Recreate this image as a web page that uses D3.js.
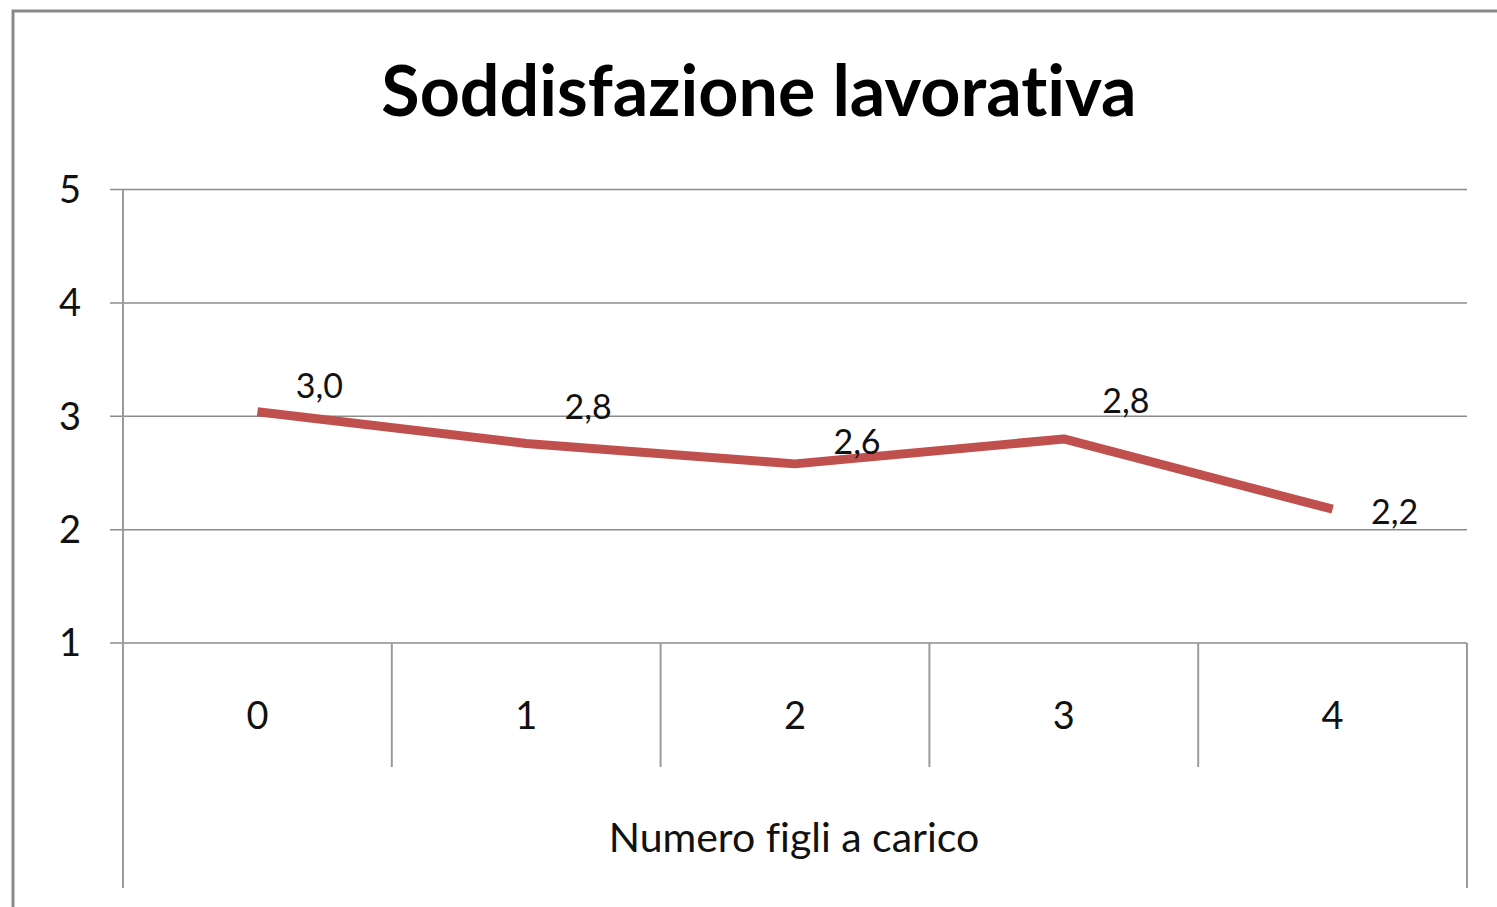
<!DOCTYPE html>
<html>
<head>
<meta charset="utf-8">
<script src="https://cdn.jsdelivr.net/npm/d3@7"></script>
<style>
  body { margin: 0; background: #fff; }
  svg { display: block; font-family: Lato, "Open Sans", sans-serif; font-variant-ligatures: none; }
</style>
</head>
<body>
<div id="container"></div>
<script>
// chart data
let categories = ["0", "1", "2", "3", "4"];
let values = [3.04, 2.76, 2.58, 2.80, 2.18];
let yTicks = [1, 2, 3, 4, 5];
let chartTitle = "Soddisfazione lavorativa";
let xTitle = "Numero figli a carico";

// label nudges (Excel placed the data labels a bit differently per point)
let labelDy = [-26, -36, -22, -38, 3];

//Width and height
let w = 1497;
let h = 907;

let plotLeft = 123, plotRight = 1467, plotTop = 189.5, plotBottom = 643;

let x = d3.scaleBand()
  .domain(categories)
  .range([plotLeft, plotRight]);

let y = d3.scaleLinear()
  .domain([1, 5])
  .range([plotBottom, plotTop]);

let svg = d3.select("#container")
  .append("svg")
  .attr("width", w)
  .attr("height", h);

// outer chart border (runs off the right/bottom of the picture)
svg.append("rect")
  .attr("x", 13).attr("y", 11)
  .attr("width", w).attr("height", h)
  .attr("fill", "none")
  .attr("stroke", "#8a8a8a")
  .attr("stroke-width", 3);

// title
svg.append("text")
  .attr("x", 759).attr("y", 116)
  .attr("text-anchor", "middle")
  .attr("font-weight", "bold")
  .attr("font-size", 70)
  .attr("fill", "#000")
  .text(chartTitle);

// horizontal gridlines + little ticks out to the left
let grid = svg.append("g");
grid.selectAll("line")
  .data(yTicks)
  .enter()
  .append("line")
    .attr("x1", plotLeft - 13)
    .attr("x2", plotRight)
    .attr("y1", d => y(d))
    .attr("y2", d => y(d))
    .attr("stroke", "#8c8c8c")
    .attr("stroke-width", 1.5);

grid.selectAll("text")
  .data(yTicks)
  .enter()
  .append("text")
    .attr("x", 70)
    .attr("y", d => y(d))
    .attr("dy", "0.35em")
    .attr("text-anchor", "middle")
    .attr("font-size", 38)
    .attr("fill", "#111")
    .text(d => d);

// category table under the plot
let catBottom = 767, axisBottom = 888;
let table = svg.append("g");
let edges = categories.map(c => x(c)).concat([plotRight]);
table.selectAll("line")
  .data(edges)
  .enter()
  .append("line")
    .attr("x1", d => d)
    .attr("x2", d => d)
    .attr("y1", (d, i) => i == 0 ? plotTop : plotBottom)
    .attr("y2", (d, i) => (i == 0 || i == edges.length - 1) ? axisBottom : catBottom)
    .attr("stroke", "#9a9a9a")
    .attr("stroke-width", 2);

table.selectAll("text")
  .data(categories)
  .enter()
  .append("text")
    .attr("x", d => x(d) + x.bandwidth() / 2)
    .attr("y", 716)
    .attr("dy", "0.35em")
    .attr("text-anchor", "middle")
    .attr("font-size", 38)
    .attr("fill", "#111")
    .text(d => d);

svg.append("text")
  .attr("x", 794).attr("y", 838)
  .attr("dy", "0.35em")
  .attr("text-anchor", "middle")
  .attr("font-size", 41)
  .attr("fill", "#111")
  .text(xTitle);

// the series line
let line = d3.line()
  .x((d, i) => x(categories[i]) + x.bandwidth() / 2)
  .y(d => y(d));

svg.append("path")
  .datum(values)
  .attr("d", line)
  .attr("fill", "none")
  .attr("stroke", "#C0504D")
  .attr("stroke-width", 9)
  .attr("stroke-linejoin", "bevel");

// data labels
let fmt = v => d3.format(".1f")(v).replace(".", ",");
svg.append("g").selectAll("text")
  .data(values)
  .enter()
  .append("text")
    .attr("x", (d, i) => x(categories[i]) + x.bandwidth() / 2 + 62)
    .attr("y", (d, i) => y(d) + labelDy[i])
    .attr("dy", "0.35em")
    .attr("text-anchor", "middle")
    .attr("font-size", 34)
    .attr("fill", "#111")
    .text(d => fmt(d));
</script>
</body>
</html>
